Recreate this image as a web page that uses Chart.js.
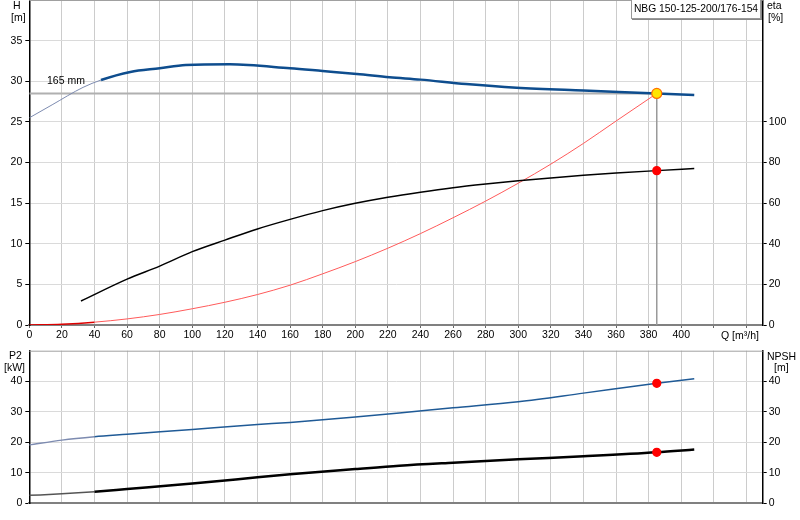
<!DOCTYPE html>
<html>
<head>
<meta charset="utf-8">
<script src="https://cdn.jsdelivr.net/npm/chart.js@4.4.1/dist/chart.umd.min.js"></script>
<style>
  body { margin: 0; background: #fff; }
  #wrap { position: relative; width: 800px; height: 520px; overflow: hidden;
          font-family: "Liberation Sans", Arial, sans-serif; font-size: 10.5px; color: #000; }
  canvas { position: absolute; left: 0; }
  #top { top: 0; }
  #bottom { top: 345px; }
  .lbl { position: absolute; line-height: 12px; white-space: nowrap; }
  #model { position: absolute; left: 631px; top: -1px; width: 128px; height: 18px;
           border: 1px solid #999; box-shadow: 1px 1px 0 #888; background: #fff;
           text-align: center; line-height: 18px; white-space: nowrap; font-size: 10.3px; }
</style>
</head>
<body>
<div id="wrap">
  <canvas id="top" width="800" height="345"></canvas>
  <canvas id="bottom" width="800" height="175"></canvas>
  <div class="lbl" style="left:13px;top:-1px">H</div>
  <div class="lbl" style="left:11px;top:11px">[m]</div>
  <div class="lbl" style="left:767px;top:-1px">eta</div>
  <div class="lbl" style="left:768px;top:11px">[%]</div>
  <div class="lbl" style="left:721px;top:329px">Q [m³/h]</div>
  <div class="lbl" style="left:47px;top:74px">165 mm</div>
  <div class="lbl" style="left:9px;top:349px">P2</div>
  <div class="lbl" style="left:4px;top:361px">[kW]</div>
  <div class="lbl" style="left:767px;top:350px">NPSH</div>
  <div class="lbl" style="left:774px;top:361px">[m]</div>
  <div id="model">NBG 150-125-200/176-154</div>
</div>
<script>
// Q-H curve (165 mm impeller)
const qH = [0, 14, 33, 44, 62, 80, 96, 123, 160, 180, 201, 221, 240, 268, 299, 340, 385, 408];
const hH = [25.5, 27.1, 29.25, 30.15, 31.15, 31.6, 32.0, 32.08, 31.6, 31.26, 30.9, 30.5, 30.2, 29.65, 29.2, 28.85, 28.5, 28.3];

// efficiency
const qEta = [31.7, 60, 80, 100, 120, 140, 160, 180, 200, 220, 240, 260, 280, 300, 320, 340, 360, 385, 408];
const eta = [11.8, 22.6, 29.0, 36.1, 41.8, 47.3, 52.0, 56.3, 59.9, 62.9, 65.4, 67.6, 69.4, 71.0, 72.4, 73.7, 74.8, 76.0, 77.0];

// system curve
const qSys = [0, 20, 40, 60, 80, 100, 120, 140, 160, 180, 200, 220, 240, 260, 280, 300, 320, 340, 360, 385];
const hSys = [0, 0.1, 0.35, 0.75, 1.3, 2.0, 2.8, 3.75, 4.9, 6.3, 7.8, 9.45, 11.25, 13.2, 15.25, 17.45, 19.8, 22.35, 25.1, 28.5];

// power and NPSH
const qP2 = [0, 20, 40, 60, 100, 140, 160, 200, 227, 260, 300, 340, 385, 408];
const p2 = [19.1, 20.7, 21.8, 22.6, 24.2, 25.8, 26.5, 28.3, 29.6, 31.3, 33.3, 36.1, 39.3, 40.8];
const qNpsh = [0, 20, 40, 60, 100, 140, 160, 200, 227, 260, 300, 340, 385, 408];
const npsh = [2.6, 3.1, 3.8, 4.7, 6.5, 8.5, 9.5, 11.2, 12.3, 13.3, 14.4, 15.4, 16.7, 17.6];

// duty point
const qOp = 385;
const hOp = 28.5;
const etaOp = 76.0;
const p2Op = 39.3;
const npshOp = 16.7;

const pts = (xs, ys) => xs.map((x, i) => ({ x: x, y: ys[i] }));

const font = { family: "'Liberation Sans', Arial, sans-serif", size: 10.5 };

// thin line at the start of a curve, normal line after
function thinStart(xs, limit, thinColor, thinWidth, color, width) {
    return {
        borderColor: c => xs[c.p1DataIndex] <= limit ? thinColor : color,
        borderWidth: c => xs[c.p1DataIndex] <= limit ? thinWidth : width,
    };
}

const topBorder = {
    id: "topBorder",
    afterDraw(chart) {
        const { ctx, chartArea } = chart;
        ctx.save();
        ctx.strokeStyle = "#a0a0a0";
        ctx.lineWidth = 1;
        ctx.beginPath();
        ctx.moveTo(chartArea.left, chartArea.top + 0.5);
        ctx.lineTo(chartArea.right, chartArea.top + 0.5);
        ctx.stroke();
        ctx.restore();
    },
};

const line = (extra) => Object.assign({
    type: "line", pointRadius: 0, fill: false, cubicInterpolationMode: "monotone",
}, extra);

const dot = (x, y, axis, bg, border) => ({
    type: "line", data: [{ x: x, y: y }], yAxisID: axis, showLine: false,
    pointRadius: bg === "#ffe600" ? 5 : 4, pointBackgroundColor: bg,
    pointBorderColor: border, pointBorderWidth: 1.2,
});

function xScale(showLabels, h) {
    return {
        type: "linear", min: 0, max: 450,
        ticks: {
            display: showLabels, stepSize: 20, includeBounds: false, autoSkip: false,
            maxRotation: 0, padding: 1, color: "#000", font: font,
            callback: v => v <= 400 ? v : "",
        },
        grid: { color: "#cccccc", tickColor: "#666", tickLength: 3, drawTicks: showLabels },
        border: { color: "#808080", width: 2 },
        afterFit: s => { s.height = h; },
    };
}

function yScale(pos, max, step, lastLabel, width) {
    return {
        position: pos, min: 0, max: max,
        ticks: {
            stepSize: step, color: "#000", font: font, padding: pos === "left" ? 3 : 2,
            callback: v => v <= lastLabel ? v : null,
        },
        grid: { color: "#dadada", tickColor: "#000", tickLength: 4, drawOnChartArea: pos === "left" },
        border: { color: "#000", width: 1.5 },
        afterFit: s => { s.width = width; s.paddingTop = 0; s.paddingBottom = 0; },
    };
}

const common = {
    responsive: false, animation: false,
    plugins: { legend: { display: false }, tooltip: { enabled: false } },
};

new Chart(document.getElementById("top"), {
    type: "line",
    data: {
        datasets: [
            dot(qOp, hOp, "yH", "#ffe600", "#ff7000"),
            dot(qOp, etaOp, "yEta", "#ff0000", "#ff0000"),
            line({ data: pts(qH, hH), yAxisID: "yH", borderColor: "#0e4d8e", borderWidth: 2.5,
                   segment: thinStart(qH, 44, "#7d8bb0", 1, "#0e4d8e", 2.5) }),
            line({ data: pts(qEta, eta), yAxisID: "yEta", borderColor: "#000", borderWidth: 1.5,
                   segment: thinStart(qEta, 43, "#666", 1, "#000", 1.5) }),
            line({ data: pts(qSys, hSys), yAxisID: "yH", borderColor: "#ff5a5a", borderWidth: 1,
                   segment: thinStart(qSys, 40, "#dd0000", 1.5, "#ff5a5a", 1) }),
            line({ data: [{ x: 0, y: hOp }, { x: qOp, y: hOp }], yAxisID: "yH",
                   borderColor: "#b0b0b0", borderWidth: 2 }),
            line({ data: [{ x: qOp, y: hOp }, { x: qOp, y: 0 }], yAxisID: "yH",
                   borderColor: "#999", borderWidth: 1.5 }),
        ],
    },
    options: Object.assign({}, common, {
        layout: { padding: 0, autoPadding: false },
        scales: {
            x: xScale(true, 20),
            yH: yScale("left", 40, 5, 35, 29.3),
            yEta: yScale("right", 160, 20, 100, 37.3),
        },
    }),
    plugins: [topBorder],
});

new Chart(document.getElementById("bottom"), {
    type: "line",
    data: {
        datasets: [
            dot(qOp, p2Op, "yP2", "#ff0000", "#ff0000"),
            dot(qOp, npshOp, "yNpsh", "#ff0000", "#ff0000"),
            line({ data: pts(qP2, p2), yAxisID: "yP2", borderColor: "#1f5a96", borderWidth: 1.5,
                   segment: thinStart(qP2, 40, "#7d8bb0", 1.5, "#1f5a96", 1.5) }),
            line({ data: pts(qNpsh, npsh), yAxisID: "yNpsh", borderColor: "#000", borderWidth: 2.5,
                   segment: thinStart(qNpsh, 40, "#555", 1.5, "#000", 2.5) }),
        ],
    },
    options: Object.assign({}, common, {
        layout: { padding: { top: 5.7 }, autoPadding: false },
        scales: {
            x: xScale(false, 16.7),
            yP2: yScale("left", 50, 10, 40, 29.3),
            yNpsh: yScale("right", 50, 10, 40, 37.3),
        },
    }),
    plugins: [topBorder],
});
</script>
</body>
</html>
